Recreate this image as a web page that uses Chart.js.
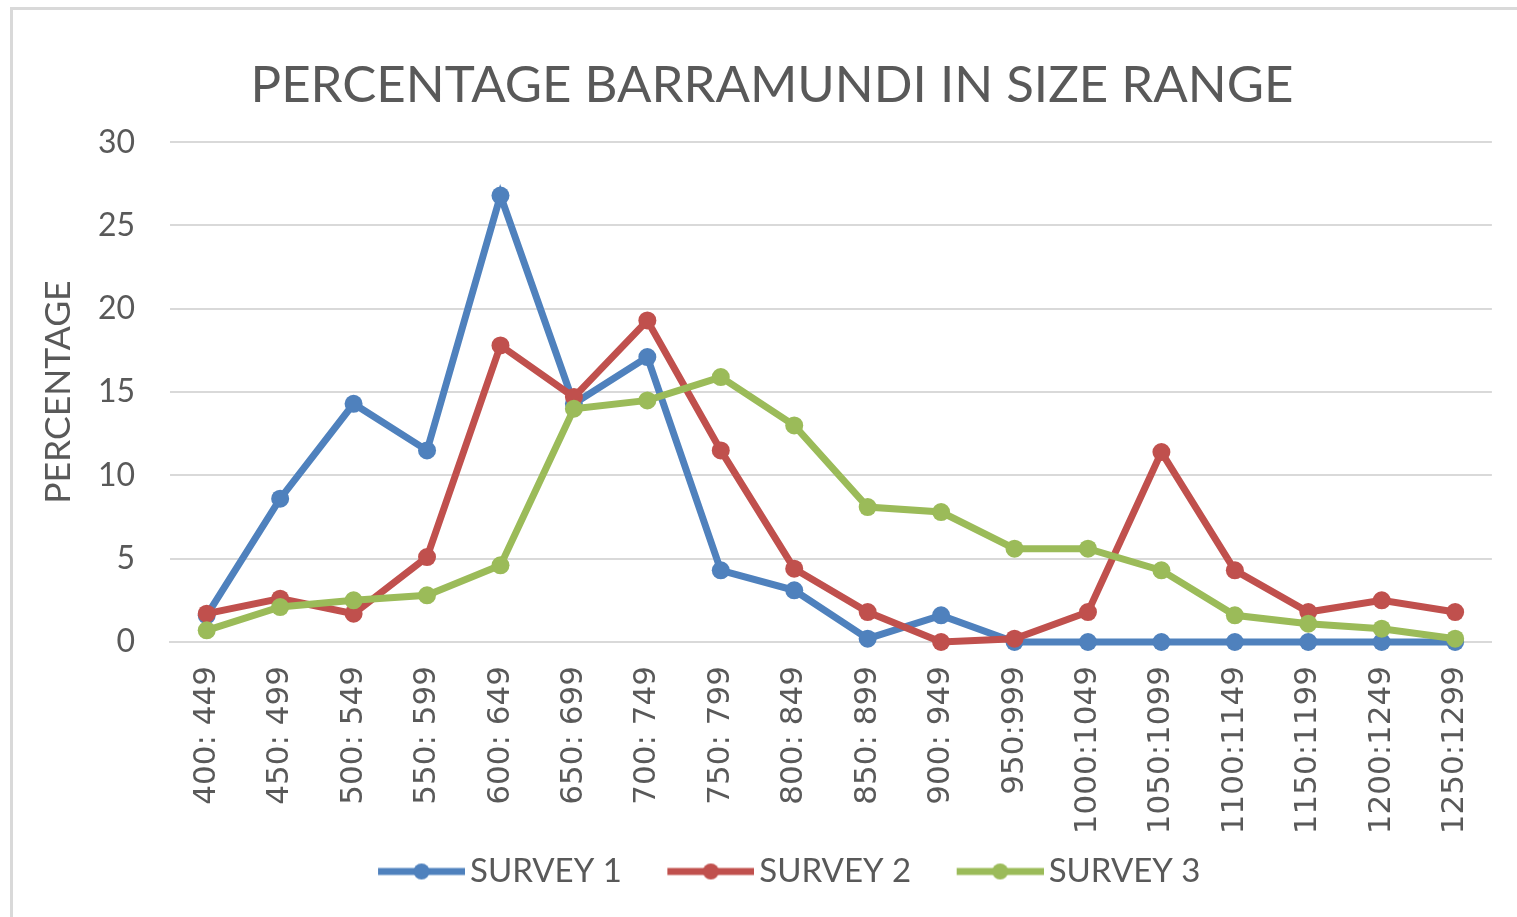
<!DOCTYPE html>
<html>
<head>
<meta charset="utf-8">
<script src="https://cdn.jsdelivr.net/npm/chart.js@4"></script>
<style>
  html, body { margin: 0; padding: 0; background: #fff; overflow: hidden; }
  .frame {
    position: absolute; left: 10px; top: 7px;
    width: 1520px; height: 920px;
    border: 3px solid #d9d9d9; box-sizing: border-box;
  }
  .frame canvas { position: absolute; left: 0; top: 0; }
</style>
</head>
<body>
<div class="frame">
  <canvas id="chart" width="1504" height="907"></canvas>
</div>
<script>
// size ranges (mm) and percentage of fish per survey
const sizeRanges = [
  "400: 449", "450: 499", "500: 549", "550: 599", "600: 649", "650: 699",
  "700: 749", "750: 799", "800: 849", "850: 899", "900: 949", "950:999",
  "1000:1049", "1050:1099", "1100:1149", "1150:1199", "1200:1249", "1250:1299"
];
const survey1 = [1.6, 8.6, 14.3, 11.5, 26.8, 14.3, 17.1, 4.3, 3.1, 0.2, 1.6, 0, 0, 0, 0, 0, 0, 0];
const survey2 = [1.7, 2.6, 1.7, 5.1, 17.8, 14.7, 19.3, 11.5, 4.4, 1.8, 0, 0.2, 1.8, 11.4, 4.3, 1.8, 2.5, 1.8];
const survey3 = [0.7, 2.1, 2.5, 2.8, 4.6, 14.0, 14.5, 15.9, 13.0, 8.1, 7.8, 5.6, 5.6, 4.3, 1.6, 1.1, 0.8, 0.2];
const seriesNames = ["SURVEY 1", "SURVEY 2", "SURVEY 3"];
const seriesColors = ["#4f81bd", "#c0504d", "#9bbb59"];
const yTicks = [0, 5, 10, 15, 20, 25, 30];

const textGray = "#595959";

// legend swatch: line with a dot, drawn on the right part of a wider
// transparent canvas so the empty left part spaces the items apart
function legendSwatch(color) {
  const c = document.createElement("canvas");
  c.width = 129;
  c.height = 20;
  const g = c.getContext("2d");
  const x0 = 42;
  g.strokeStyle = color;
  g.lineWidth = 7;
  g.beginPath();
  g.moveTo(x0, 10);
  g.lineTo(x0 + 87, 10);
  g.stroke();
  g.fillStyle = color;
  g.beginPath();
  g.arc(x0 + 43.5, 10, 8, 0, Math.PI * 2);
  g.fill();
  return c;
}

function makeSeries(i, values) {
  return {
    label: seriesNames[i],
    data: values,
    borderColor: seriesColors[i],
    backgroundColor: seriesColors[i],
    pointBackgroundColor: seriesColors[i],
    pointBorderWidth: 0,
    pointRadius: 9,
    pointHoverRadius: 9,
    borderWidth: 7,
    tension: 0,
    clip: false,
    order: 2 - i,
  };
}

// the legend sits a little right of centre in the original
const legendShift = {
  id: "legendShift",
  afterLayout(chart) {
    chart.legend.left += 2;
    chart.legend.right += 2;
  },
};

const ctx = document.getElementById("chart").getContext("2d");
const chart = new Chart(ctx, {
  type: "line",
  data: {
    labels: sizeRanges,
    datasets: [makeSeries(0, survey1), makeSeries(1, survey2), makeSeries(2, survey3)],
  },
  plugins: [legendShift],
  options: {
    responsive: false,
    animation: false,
    layout: { padding: { left: 37, right: 23, top: 0, bottom: 19 } },
    plugins: {
      title: {
        display: true,
        text: "PERCENTAGE BARRAMUNDI IN SIZE RANGE",
        color: textGray,
        font: { family: "Lato", size: 51, weight: "normal" },
        padding: { top: 45, bottom: 26 },
      },
      legend: {
        position: "bottom",
        labels: {
          usePointStyle: true,
          pointStyleWidth: 106,
          color: textGray,
          font: { family: "Lato", size: 33 },
          padding: 15,
          generateLabels: function (chart) {
            return chart.data.datasets.map((ds, i) => ({
              text: ds.label,
              pointStyle: legendSwatch(seriesColors[i]),
              fillStyle: seriesColors[i],
              strokeStyle: seriesColors[i],
              lineWidth: 0,
              fontColor: textGray,
              hidden: false,
              datasetIndex: i,
            }));
          },
        },
      },
      tooltip: { enabled: false },
    },
    scales: {
      x: {
        offset: true,
        grid: { display: false, drawTicks: false, offset: true },
        border: { display: true, color: "#d9d9d9", width: 2 },
        ticks: {
          color: textGray,
          font: { family: "DejaVu Sans", size: 31 },
          minRotation: 90,
          maxRotation: 90,
          padding: 24,
          autoSkip: false,
        },
        afterFit: function (scale) { scale.height = 198; },
      },
      y: {
        min: yTicks[0],
        max: yTicks[yTicks.length - 1],
        afterBuildTicks: function (scale) {
          scale.ticks = yTicks.map((v) => ({ value: v }));
        },
        grid: { color: "#d9d9d9", lineWidth: 2, drawTicks: false },
        border: { display: false },
        ticks: {
          color: textGray,
          font: { family: "Lato", size: 32 },
          padding: 35,
        },
        title: {
          display: true,
          text: "PERCENTAGE",
          color: textGray,
          font: { family: "Lato", size: 35.5 },
          padding: -13,
        },
        afterFit: function (scale) { scale.width = 120; },
      },
    },
  },
});
</script>
</body>
</html>
